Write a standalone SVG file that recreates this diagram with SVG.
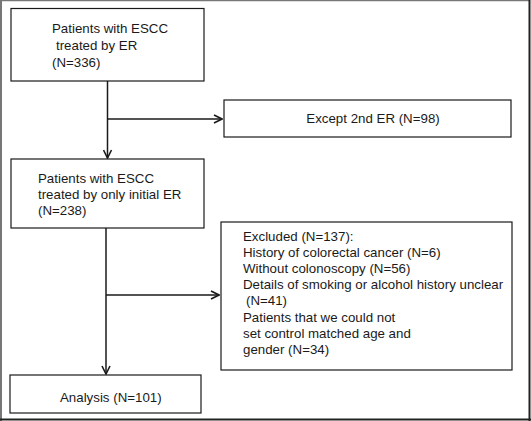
<svg xmlns="http://www.w3.org/2000/svg" width="531" height="421" viewBox="0 0 531 421">
<style>
.box{fill:#fff;stroke:#1a1a1a;stroke-width:1.2}
.t{font-family:"Liberation Sans",Arial,sans-serif;font-size:13.3px;fill:#1a1a1a}
.ln{stroke:#1a1a1a;stroke-width:1.5;fill:none}
</style>
<defs>
<marker id="ah" viewBox="0 0 10 10" refX="9" refY="5" markerWidth="10" markerHeight="10" markerUnits="userSpaceOnUse" orient="auto">
<polyline points="1,1 9,5 1,9" fill="none" stroke="#1a1a1a" stroke-width="1.6"/>
</marker>
</defs>
<rect x="0" y="0" width="531" height="421" fill="#fff"/>
<line x1="0.5" y1="0.5" x2="530" y2="0.5" stroke="#777" stroke-width="1.5"/>
<line x1="1" y1="0" x2="1" y2="421" stroke="#777" stroke-width="2"/>
<line x1="529.5" y1="0" x2="529.5" y2="421" stroke="#222" stroke-width="2"/>
<line x1="0" y1="419.5" x2="531" y2="419.5" stroke="#222" stroke-width="2"/>
<g id="connectors">
<line class="ln" x1="107.5" y1="81" x2="107.5" y2="158" marker-end="url(#ah)"/>
<line class="ln" x1="107.5" y1="119" x2="222" y2="119" marker-end="url(#ah)"/>
<line class="ln" x1="106" y1="228" x2="106" y2="374" marker-end="url(#ah)"/>
<line class="ln" x1="106" y1="295" x2="219" y2="295" marker-end="url(#ah)"/>
</g>
<g id="n1">
<rect class="box" x="11" y="8.5" width="193" height="72.5"/>
<text class="t" x="52" y="33">Patients with ESCC</text>
<text class="t" x="56" y="50">treated by ER</text>
<text class="t" x="52" y="67">(N=336)</text>
</g>
<g id="n2">
<rect class="box" x="224" y="100" width="287" height="37"/>
<text class="t" x="373" y="123" text-anchor="middle">Except 2nd ER (N=98)</text>
</g>
<g id="n3">
<rect class="box" x="11" y="159" width="193" height="69"/>
<text class="t" x="38" y="183">Patients with ESCC</text>
<text class="t" x="38" y="199">treated by only initial ER</text>
<text class="t" x="38" y="215">(N=238)</text>
</g>
<g id="n4">
<rect class="box" x="221" y="222" width="291" height="148"/>
<text class="t" x="243" y="241">Excluded (N=137):</text>
<text class="t" x="243" y="257">History of colorectal cancer (N=6)</text>
<text class="t" x="243" y="273">Without colonoscopy (N=56)</text>
<text class="t" x="243" y="289">Details of smoking or alcohol history unclear</text>
<text class="t" x="246" y="305">(N=41)</text>
<text class="t" x="243" y="322">Patients that we could not</text>
<text class="t" x="243" y="338">set control matched age and</text>
<text class="t" x="243" y="354">gender (N=34)</text>
</g>
<g id="n5">
<rect class="box" x="10" y="375" width="191" height="38"/>
<text class="t" x="60" y="402">Analysis (N=101)</text>
</g>
</svg>
